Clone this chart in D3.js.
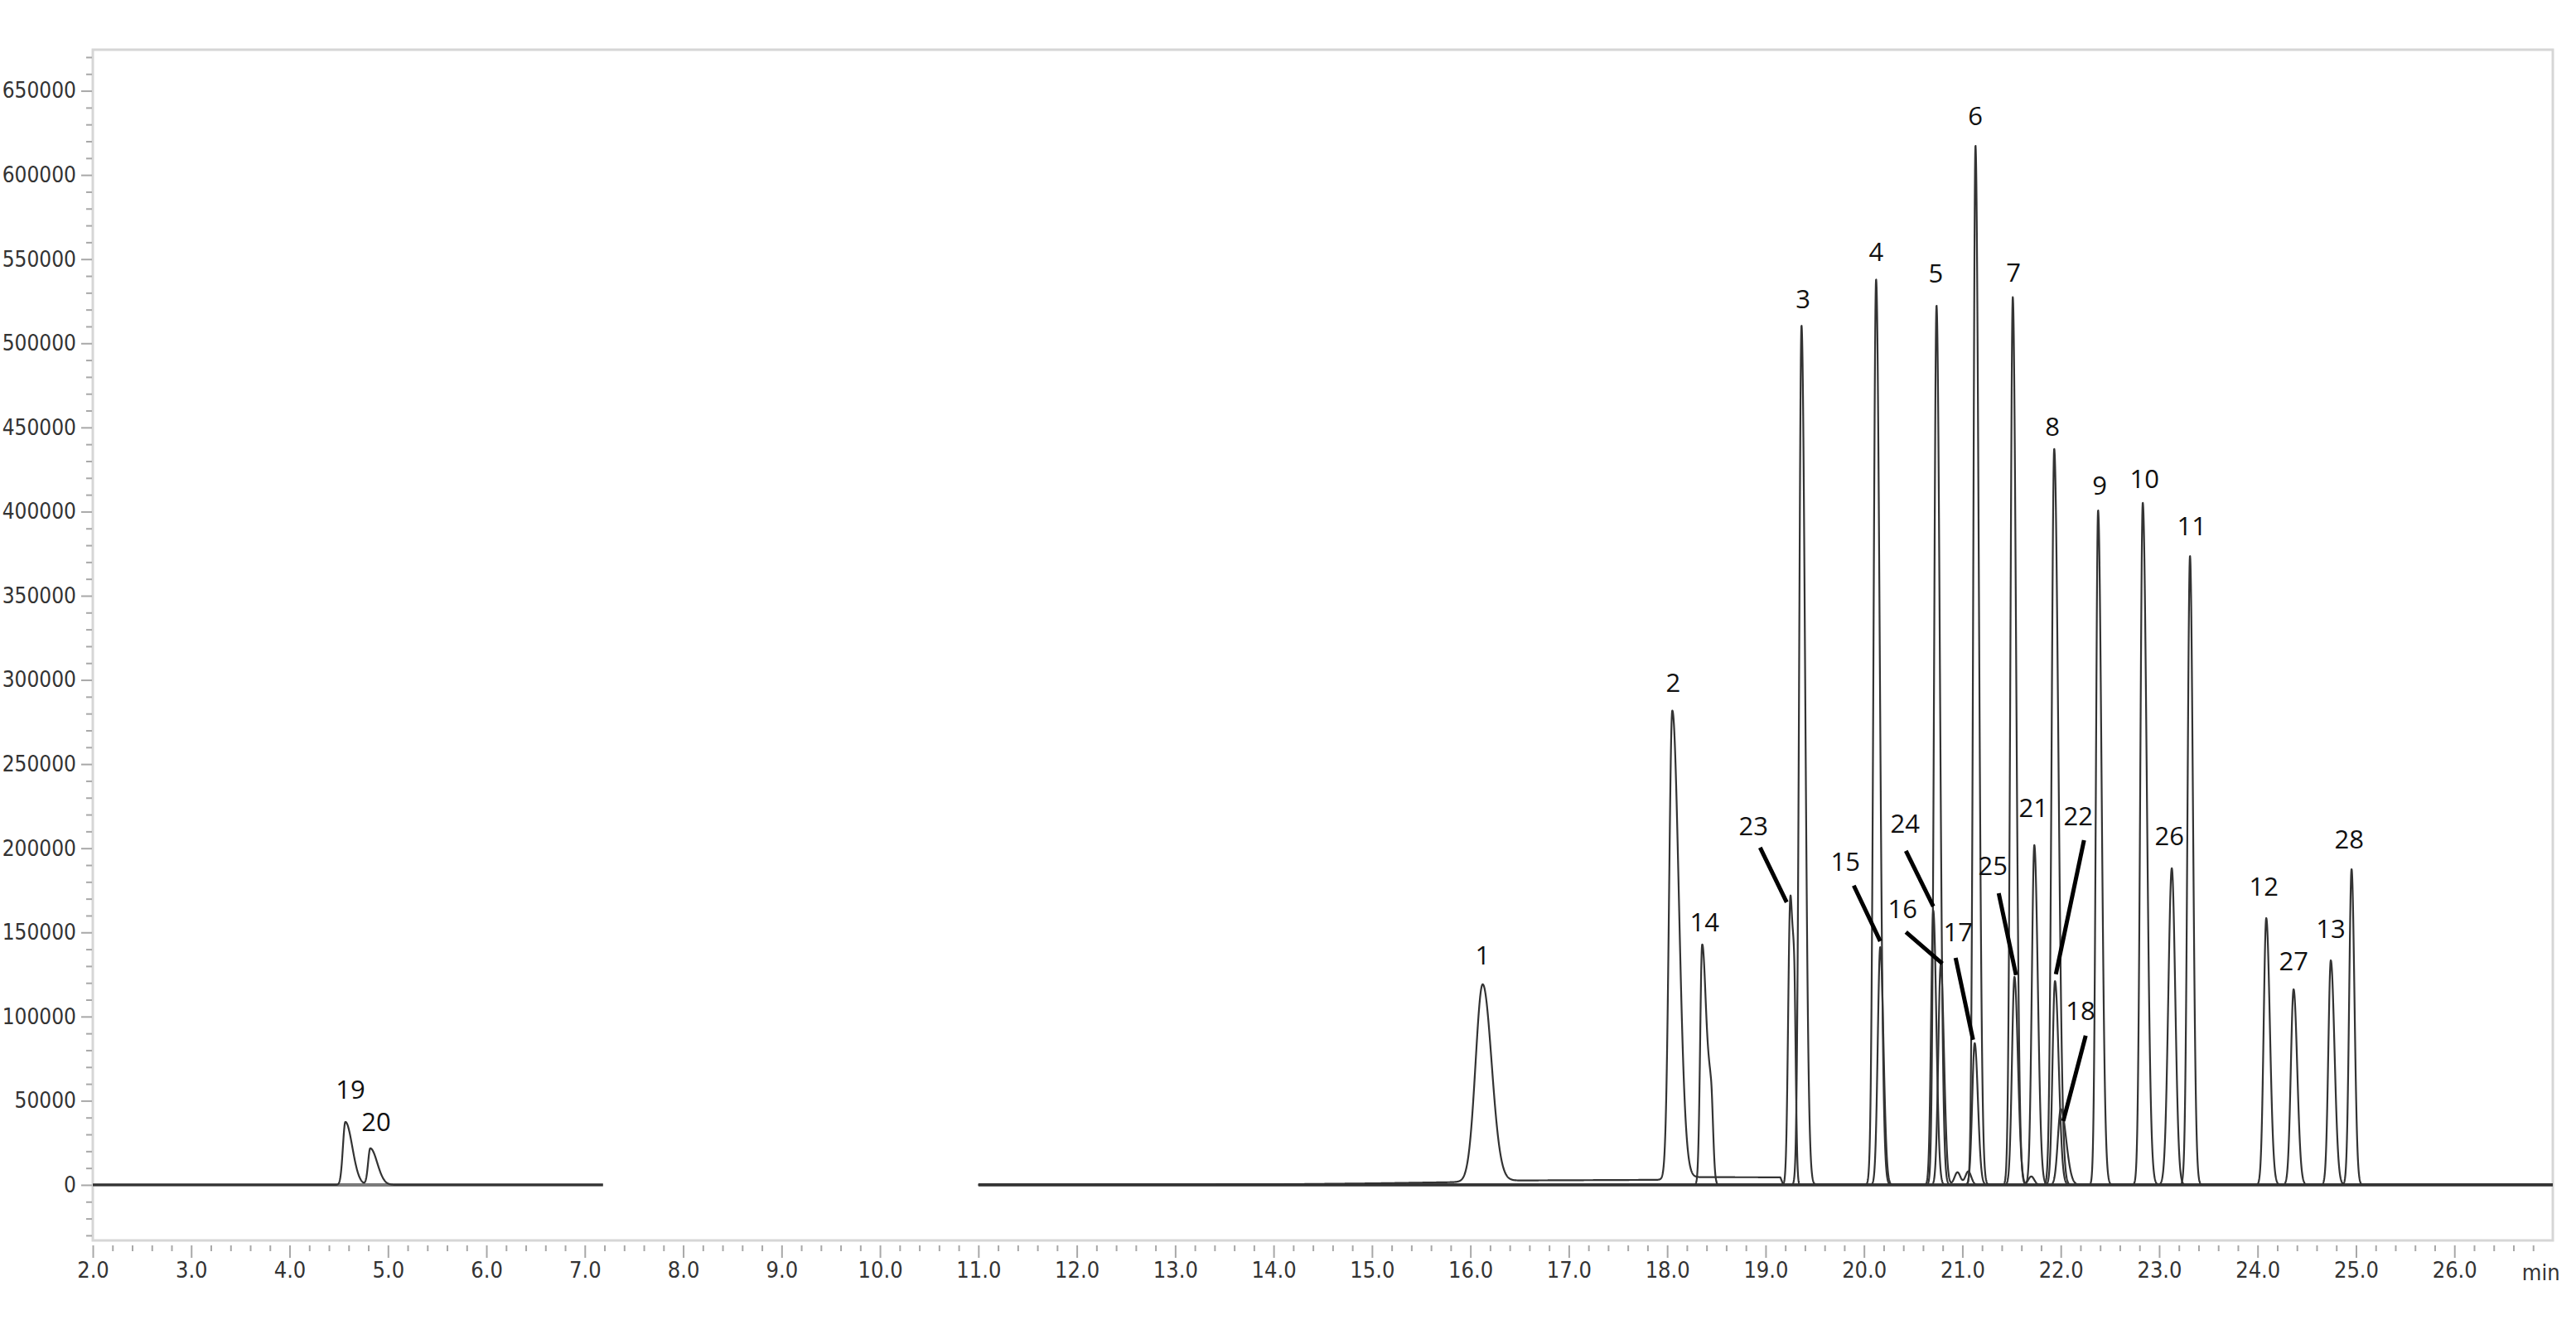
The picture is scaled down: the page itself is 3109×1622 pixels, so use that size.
<!DOCTYPE html>
<html>
<head>
<meta charset="utf-8">
<script src="https://cdn.jsdelivr.net/npm/d3@7"></script>
<style>
  html, body { margin: 0; padding: 0; background: #fff; }
  svg { display: block; }
  .tick-label { font-family: "Liberation Sans Narrow", "DejaVu Sans Condensed", "Roboto Condensed", "Liberation Sans", sans-serif; font-stretch: condensed; fill: #333; }
  .peak-label { font-family: "Open Sans", "Noto Sans", sans-serif; fill: #111; }
</style>
</head>
<body>
<svg id="chart" width="3109" height="1622"></svg>
<script>
// ---------------- DATA ----------------
// Named (labelled) peaks: retention time (min), height (counts), width sigma (min), tail factor, trace index
const peakIds     = ["19","20","1","2","14","23","3","15","4","24","5","16","17","6","7","25","21","8","22","18","9","10","26","11","12","27","13","28"];
const peakTimes   = [4.567, 4.820, 16.125, 18.052, 18.355, 19.248, 19.365, 20.165, 20.123, 20.704, 20.737, 20.780, 21.125, 21.133, 21.512, 21.529, 21.731, 21.933, 21.941, 22.000, 22.379, 22.833, 23.128, 23.313, 24.088, 24.366, 24.744, 24.955];
const peakHeights = [37400, 21700, 117000, 278000, 140800, 155000, 510600, 141300, 538000, 163000, 522500, 131000, 84200, 617500, 527400, 123600, 201900, 437300, 121100, 45000, 400800, 405300, 188100, 373700, 158500, 116200, 133400, 187600];
const peakSigmas  = [0.025, 0.022, 0.072, 0.033, 0.020, 0.020, 0.024, 0.025, 0.026, 0.022, 0.024, 0.025, 0.025, 0.022, 0.024, 0.025, 0.025, 0.026, 0.025, 0.030, 0.022, 0.025, 0.035, 0.025, 0.026, 0.028, 0.025, 0.024];
const peakTails   = [2.8, 3.2, 1.25, 2.0, 2.0, 1.0, 1.5, 1.3, 1.4, 1.4, 1.4, 1.3, 1.3, 1.5, 1.4, 1.4, 1.4, 1.6, 1.5, 1.8, 1.6, 1.6, 1.0, 1.2, 1.4, 1.3, 1.5, 1.2];
const peakTrace   = [0, 0, 1, 1, 2, 2, 1, 2, 1, 2, 1, 3, 2, 1, 1, 2, 2, 1, 3, 4, 1, 1, 2, 1, 1, 2, 1, 2];

// Peak label anchors (data units: time, counts)
const labelTimes  = [4.618, 4.879, 16.125, 18.061, 18.380, 18.877, 19.380, 19.811, 20.123, 20.418, 20.729, 20.392, 20.956, 21.133, 21.520, 21.310, 21.722, 21.916, 22.177, 22.200, 22.396, 22.850, 23.103, 23.330, 24.063, 24.366, 24.744, 24.930];
const labelValues = [57100, 37900, 136900, 299000, 156600, 213700, 526900, 192500, 554900, 215200, 542100, 164500, 150700, 635700, 542600, 190100, 224500, 451000, 219600, 103900, 416100, 420000, 207800, 392000, 177800, 133400, 152600, 205800];

// Leader lines for crowded peaks (data units)
const leaderIds   = ["23", "15", "24", "16", "17", "25", "22", "18"];
const leaderT1    = [18.944, 19.896, 20.426, 20.426, 20.931, 21.369, 22.236, 22.253];
const leaderV1    = [200400, 177800, 198400, 150200, 134900, 173300, 204800, 88600];
const leaderT2    = [19.214, 20.165, 20.704, 20.796, 21.108, 21.545, 21.950, 22.025];
const leaderV2    = [167900, 144800, 165400, 131500, 86200, 124600, 125100, 37900];

// Unlabelled shoulders and small bumps
const minorTimes   = [18.445, 19.290, 20.950, 21.060, 21.700];
const minorHeights = [52000, 120000, 7500, 8000, 5000];
const minorSigmas  = [0.035, 0.020, 0.030, 0.030, 0.030];
const minorTails   = [0.6, 0.8, 1.0, 1.0, 1.0];
const minorTrace   = [2, 2, 3, 3, 3];

// Trace time ranges (min)
const traceStart = [2.0, 11.0, 11.0, 11.0, 11.0];
const traceEnd   = [7.185, 27.0, 27.0, 27.0, 27.0];

// Drifting baseline of trace 1 (time, counts)
const driftTimes  = [11.0, 14.0, 15.0, 15.8, 16.4, 17.9, 18.2, 19.15, 19.18, 27.0];
const driftValues = [0, 300, 900, 1600, 2600, 3000, 4600, 4500, 0, 0];

// Axis ticks
const yTickValues = [0, 50000, 100000, 150000, 200000, 250000, 300000, 350000, 400000, 450000, 500000, 550000, 600000, 650000];
const yTickLabels = ["0", "50000", "100000", "150000", "200000", "250000", "300000", "350000", "400000", "450000", "500000", "550000", "600000", "650000"];
const xTickValues = [2,3,4,5,6,7,8,9,10,11,12,13,14,15,16,17,18,19,20,21,22,23,24,25,26];
const xTickLabels = ["2.0","3.0","4.0","5.0","6.0","7.0","8.0","9.0","10.0","11.0","12.0","13.0","14.0","15.0","16.0","17.0","18.0","19.0","20.0","21.0","22.0","23.0","24.0","25.0","26.0"];
const xUnitLabel = "min";

// ---------------- LAYOUT ----------------
const L = 112, R = 3081, T = 60, B = 1497;
const svg = d3.select("#chart");
const x = d3.scaleLinear().domain([2, 27]).range([L, R]);
const y = d3.scaleLinear().domain([-33000, 674400]).range([B, T]);

// frame
svg.append("rect")
  .attr("x", L).attr("y", T).attr("width", R - L).attr("height", B - T)
  .attr("fill", "none").attr("stroke", "#d6d6d6").attr("stroke-width", 3);

// Y axis
const yMinor = d3.range(-30000, 674000, 10000).filter(v => v % 50000 !== 0);
const yAxisMinor = svg.append("g").attr("transform", `translate(${L - 1},0)`)
  .call(d3.axisLeft(y).tickValues(yMinor).tickSize(7).tickFormat(""));
const yAxisMajor = svg.append("g").attr("transform", `translate(${L - 1},0)`)
  .call(d3.axisLeft(y).tickValues(yTickValues).tickSize(13).tickPadding(6)
    .tickFormat((d, i) => yTickLabels[i]));
[yAxisMinor, yAxisMajor].forEach(g => {
  g.select(".domain").remove();
  g.selectAll(".tick line").attr("stroke", "#a8a8a8").attr("stroke-width", 2);
});
yAxisMajor.selectAll("text").attr("class", "tick-label").style("font-size", "26px");

// X axis
const xMinor = d3.range(2, 26.9, 0.2).filter(v => Math.abs(v - Math.round(v)) > 0.01);
const xAxisMinor = svg.append("g").attr("transform", `translate(0,${B + 6})`)
  .call(d3.axisBottom(x).tickValues(xMinor).tickSize(7).tickFormat(""));
const xAxisMajor = svg.append("g").attr("transform", `translate(0,${B + 6})`)
  .call(d3.axisBottom(x).tickValues(xTickValues).tickSize(15).tickPadding(5)
    .tickFormat((d, i) => xTickLabels[i]));
[xAxisMinor, xAxisMajor].forEach(g => {
  g.select(".domain").remove();
  g.selectAll(".tick line").attr("stroke", "#a8a8a8").attr("stroke-width", 2);
});
xAxisMajor.selectAll("text").attr("class", "tick-label").style("font-size", "27px");
svg.append("text").attr("class", "tick-label")
  .attr("x", x(26.88)).attr("y", 1535).attr("text-anchor", "middle")
  .attr("dominant-baseline", "central").style("font-size", "27px")
  .text(xUnitLabel);

// ---------------- TRACES ----------------
function shape(t, t0, h, s, tail) {
  const d = t - t0;
  const sig = d < 0 ? s : s * tail;
  const z = d / sig;
  return z * z > 60 ? 0 : h * Math.exp(-0.5 * z * z);
}
const drift = d3.scaleLinear().domain(driftTimes).range(driftValues).clamp(true);

const nTraces = traceStart.length;
const traces = [];
for (let k = 0; k < nTraces; k++) {
  const ts = d3.range(traceStart[k], traceEnd[k] + 1e-9, 0.002);
  const pts = ts.map(t => {
    let v = (k === 1) ? drift(t) : 0;
    peakIds.forEach((id, i) => {
      if (peakTrace[i] === k) v += shape(t, peakTimes[i], peakHeights[i], peakSigmas[i], peakTails[i]);
    });
    minorTimes.forEach((tm, i) => {
      if (minorTrace[i] === k) v += shape(t, tm, minorHeights[i], minorSigmas[i], minorTails[i]);
    });
    return [t, v];
  });
  traces.push(pts);
}

const line = d3.line().x(d => x(d[0])).y(d => y(d[1]));

// baseline bands (overlapping noisy baselines)
svg.append("line")
  .attr("x1", x(traceStart[0])).attr("x2", x(traceEnd[0]))
  .attr("y1", y(0)).attr("y2", y(0))
  .attr("stroke", "#7a7a7a").attr("stroke-width", 4);
svg.append("line")
  .attr("x1", x(traceStart[1])).attr("x2", x(traceEnd[1]))
  .attr("y1", y(0)).attr("y2", y(0))
  .attr("stroke", "#5a5a5a").attr("stroke-width", 4);

svg.append("g").selectAll("path").data(traces).join("path")
  .attr("d", line)
  .attr("fill", "none")
  .attr("stroke", "#333")
  .attr("stroke-width", 2.2)
  .attr("stroke-linejoin", "round");

// ---------------- ANNOTATIONS ----------------
svg.append("g").selectAll("line").data(leaderIds).join("line")
  .attr("x1", (d, i) => x(leaderT1[i])).attr("y1", (d, i) => y(leaderV1[i]))
  .attr("x2", (d, i) => x(leaderT2[i])).attr("y2", (d, i) => y(leaderV2[i]))
  .attr("stroke", "#000").attr("stroke-width", 5);

svg.append("g").selectAll("text").data(peakIds).join("text")
  .attr("class", "peak-label")
  .attr("x", (d, i) => x(labelTimes[i]))
  .attr("y", (d, i) => y(labelValues[i]))
  .attr("text-anchor", "middle")
  .attr("dominant-baseline", "central")
  .style("font-size", "31px")
  .text(d => d);
</script>
</body>
</html>
